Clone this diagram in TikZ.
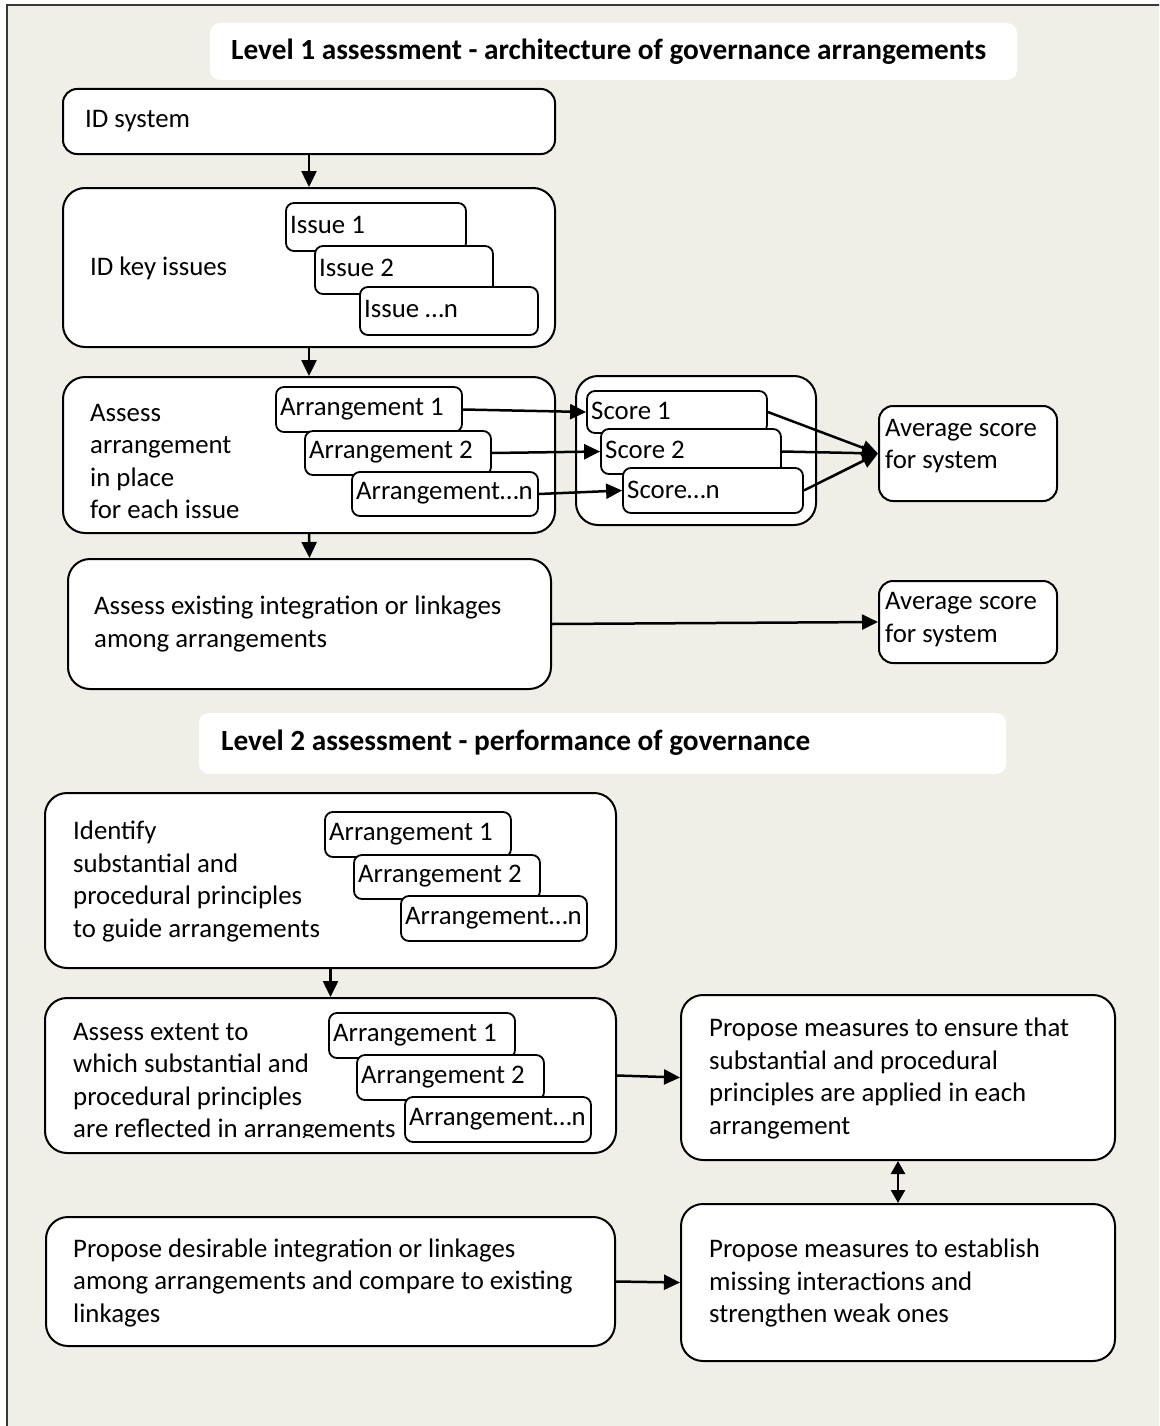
\documentclass[tikz,border=0pt]{standalone}
\usepackage{fontspec}
\setmainfont{Carlito}
\usetikzlibrary{arrows.meta}
\definecolor{bgc}{RGB}{239,239,231}
\definecolor{framec}{RGB}{55,55,55}
\newcommand\mkbox[6]{%
  \pgfmathsetmacro\bxw{#5-#3}\pgfmathsetmacro\bxh{#6-#4}%
  \pgfmathsetmacro\bxcx{(#3+#5)/2}\pgfmathsetmacro\bxcy{(#4+#6)/2}%
  \node[#1,minimum width=\bxw pt,minimum height=\bxh pt] (#2) at (\bxcx,\bxcy) {};}
\begin{document}
\begin{tikzpicture}[x=1pt,y=-1pt,
  txt/.style={font=\fontsize{26.8}{32.5}\selectfont, inner sep=0pt, anchor=west, align=left},
  ttl/.style={font=\bfseries\fontsize{29.3}{34}\selectfont, inner sep=0pt, anchor=west},
  bigbox/.style={draw=black, fill=white, line width=2pt, rounded corners=22pt, inner sep=0pt},
  midbox/.style={draw=black, fill=white, line width=2pt, rounded corners=14pt, inner sep=0pt},
  smallbox/.style={draw=black, fill=white, line width=1.8pt, rounded corners=8pt, inner sep=0pt},
  titlebox/.style={fill=white, draw=none, rounded corners=10pt, inner sep=0pt},
  arr/.style={line width=2.5pt, -{Triangle[length=16pt,width=15pt]}},
  darr/.style={line width=2.5pt, {Triangle[length=13pt,width=14pt]}-{Triangle[length=13pt,width=14pt]}}]
\useasboundingbox (0,0) rectangle (1159,1426);
\clip (0,0) rectangle (1159,1426);
\fill[white] (0,0) rectangle (1159,1426);
\draw[framec, line width=2pt, fill=bgc] (7,5) rectangle (1180,1445);

% titles
\mkbox{titlebox}{title1}{210}{23}{1017}{80}
\node[ttl] (t_title1) at (231,52) {Level 1 assessment - architecture of governance arrangements};
\mkbox{titlebox}{title2}{199}{713}{1006}{774}
\node[ttl] (t_title2) at (221,743) {Level 2 assessment - performance of governance};

% level 1
\mkbox{midbox}{idsys}{63}{89}{555}{154}
\node[txt] (t_idsys) at (85,121) {ID system};

\mkbox{bigbox}{idkey}{63}{188}{555}{347}
\node[txt] (t_idkey) at (90,268) {ID key issues};
\mkbox{smallbox}{issue1}{286}{203}{466}{251}
\node[txt] (t_issue1) at (290,225) {Issue 1};
\mkbox{smallbox}{issue2}{315}{246}{493}{294}
\node[txt] (t_issue2) at (319,268) {Issue 2};
\mkbox{smallbox}{issuen}{360}{287}{538}{335}
\node[txt] (t_issuen) at (364,309) {Issue …n};

\mkbox{bigbox}{assess}{63}{377}{555}{533}
\begin{scope}
\clip (63,377) rectangle (555,518);
\node[txt] (t_assess) at (90,461.5) {Assess\\arrangement\\in place\\for each issue};
\end{scope}
\mkbox{smallbox}{arr1}{276}{387}{462}{432}
\node[txt] (t_arr1) at (280,409) {Arrangement 1};
\mkbox{smallbox}{arr2}{305}{431}{491}{475}
\node[txt] (t_arr2) at (309,452) {Arrangement 2};
\mkbox{smallbox}{arrn}{352}{472}{538}{516}
\node[txt] (t_arrn) at (356,493) {Arrangement…n};

\mkbox{bigbox}{scoregrp}{576}{376}{816}{525}
\mkbox{smallbox}{score1}{587}{391}{767}{433}
\node[txt] (t_score1) at (591,411) {Score 1};
\mkbox{smallbox}{score2}{601}{429}{781}{474}
\node[txt] (t_score2) at (605,450) {Score 2};
\mkbox{smallbox}{scoren}{623}{468}{803}{513}
\node[txt] (t_scoren) at (627,490) {Score…n};

\mkbox{midbox}{avg1}{879}{406}{1057}{501}
\node[txt] (t_avg1) at (885,446) {Average score\\for system};

\mkbox{bigbox}{assessex}{68}{559}{551}{689}
\node[txt] (t_assessex) at (94,624) {Assess existing integration or linkages\\among arrangements};

\mkbox{midbox}{avg2}{879}{581}{1057}{663}
\node[txt] (t_avg2) at (885,619.5) {Average score\\for system};

% level 2
\mkbox{bigbox}{identify}{45}{793}{616}{968}
\node[txt] (t_identify) at (73,881.5) {Identify\\substantial and\\procedural principles\\to guide arrangements};
\mkbox{smallbox}{idarr1}{325}{812}{511}{857}
\node[txt] (t_idarr1) at (329,834) {Arrangement 1};
\mkbox{smallbox}{idarr2}{354}{855}{540}{899}
\node[txt] (t_idarr2) at (358,876) {Arrangement 2};
\mkbox{smallbox}{idarrn}{401}{896}{587}{941}
\node[txt] (t_idarrn) at (405,918) {Arrangement…n};

\mkbox{bigbox}{assessext}{45}{998}{616}{1153}
\begin{scope}
\clip (45,998) rectangle (616,1137);
\node[txt] (t_assessext) at (73,1082.5) {Assess extent to\\which substantial and\\procedural principles\\are reflected in arrangements};
\end{scope}
\mkbox{smallbox}{axarr1}{329}{1013}{515}{1058}
\node[txt] (t_axarr1) at (333,1035) {Arrangement 1};
\mkbox{smallbox}{axarr2}{357}{1055}{544}{1100}
\node[txt] (t_axarr2) at (361,1077) {Arrangement 2};
\mkbox{smallbox}{axarrn}{405}{1097}{591}{1142}
\node[txt] (t_axarrn) at (409,1119) {Arrangement…n};

\mkbox{bigbox}{propdes}{46}{1217}{615}{1346}
\node[txt] (t_propdes) at (73,1282.5) {Propose desirable integration or linkages\\among arrangements and compare to existing\\linkages};

\mkbox{bigbox}{pm1}{681}{995}{1115}{1160}
\node[txt] (t_pm1) at (709,1078.5) {Propose measures to ensure that\\substantial and procedural\\principles are applied in each\\arrangement};
\mkbox{bigbox}{pm2}{681}{1204}{1115}{1361}
\node[txt] (t_pm2) at (709,1283) {Propose measures to establish\\missing interactions and\\strengthen weak ones};

% connectors
\draw[arr] (idsys.south) -- (idkey.north);
\draw[arr] (idkey.south) -- (assess.north);
\draw[arr] (assess.south) -- (assessex.north);
\draw[arr] (arr1.east) -- (score1.west);
\draw[arr] (arr2.east) -- (score2.west);
\draw[arr] (arrn.east) -- (scoren.west);
\draw[arr] (score1.east) -- (avg1.west);
\draw[arr] (score2.east) -- (avg1.west);
\draw[arr] (scoren.east) -- (avg1.west);
\draw[arr] (assessex.east) -- (avg2.west);
\draw[arr] (identify.south) -- (assessext.north);
\draw[arr] (assessext.east) -- (pm1.west);
\draw[arr] (propdes.east) -- (pm2.west);
\draw[darr] (pm1.south) -- (pm2.north);
\end{tikzpicture}
\end{document}
